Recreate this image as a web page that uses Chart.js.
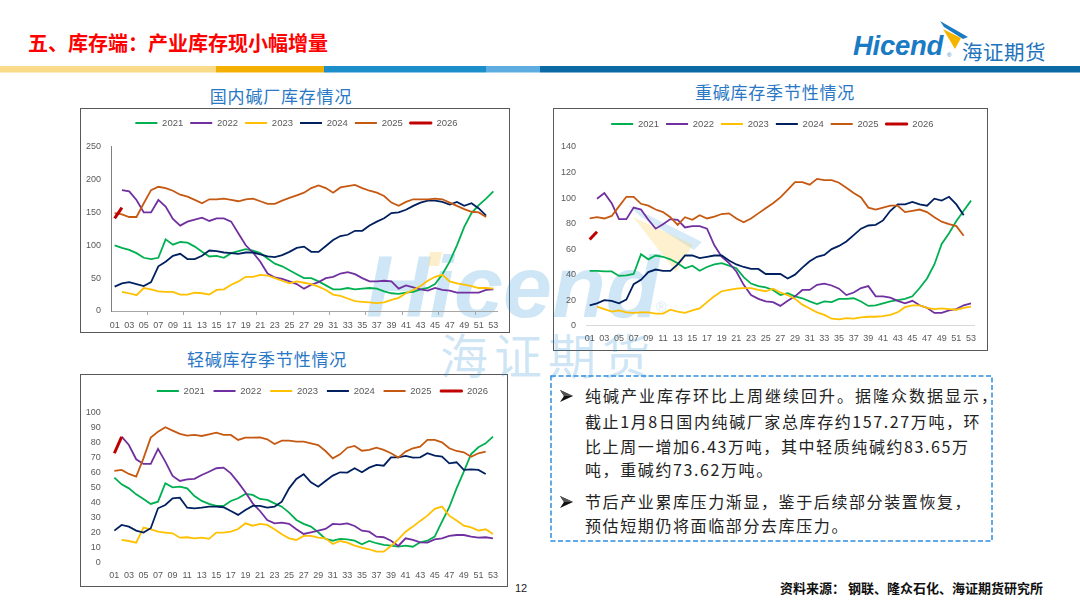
<!DOCTYPE html>
<html><head><meta charset="utf-8">
<script src="https://cdn.jsdelivr.net/npm/chart.js@4.4.1/dist/chart.umd.min.js"></script>
<style>
html,body{margin:0;padding:0;}
body{width:1080px;height:607px;background:#fff;position:relative;overflow:hidden;font-family:"Noto Sans CJK SC",sans-serif;}
.a{position:absolute;white-space:nowrap;}
.frame{position:absolute;box-sizing:border-box;border:1px solid #595959;background:#fff;z-index:1;}
.cw{position:absolute;z-index:3;}
.ttl{position:absolute;z-index:4;color:#2A78C5;font-size:17px;letter-spacing:0.8px;line-height:20px;white-space:nowrap;transform:translateX(-50%);}
.wm{position:absolute;z-index:2;color:rgba(30,140,210,0.22);white-space:nowrap;}
.tl{position:absolute;z-index:4;font-size:16px;letter-spacing:1.6px;line-height:20px;color:#222;white-space:nowrap;}
</style></head>
<body>
<!-- header -->
<div class="a" style="left:28px;top:29px;font-size:20px;font-weight:700;color:#FF0000;line-height:28px;">五、库存端：产业库存现小幅增量</div>
<div class="a" style="left:853px;top:28px;font-family:'Liberation Sans';font-weight:700;font-style:italic;font-size:27.5px;line-height:36px;color:#1A7BC4;letter-spacing:-0.3px;">Hicend</div>
<div class="a" style="left:947px;top:52px;font-family:'Liberation Sans';font-size:6px;color:#1A7BC4;">®</div>
<div class="a" style="left:962px;top:38px;font-size:20.5px;line-height:26px;color:#1F74BC;letter-spacing:0.5px;">海证期货</div>
<svg class="a" style="left:0;top:0;z-index:5;" width="1080" height="80">
  <polygon points="940,21 968,37 963,39 944,27" fill="#1A7BC4"/>
  <polygon points="943,29 961,38 955,49" fill="#F5B400"/>
  <rect x="0" y="66" width="216" height="6.5" fill="#FADB8A"/>
  <rect x="216" y="66" width="108" height="6.5" fill="#F4B000"/>
  <rect x="324" y="66" width="162" height="6.5" fill="#1C8FCB"/>
  <rect x="486" y="66" width="54" height="6.5" fill="#5EADE0"/>
  <rect x="540" y="66" width="540" height="6.5" fill="#0B69A3"/>
</svg>

<!-- chart titles -->
<div class="ttl" style="left:281px;top:86px;">国内碱厂库存情况</div>
<div class="ttl" style="left:775px;top:82px;">重碱库存季节性情况</div>
<div class="ttl" style="left:267px;top:349px;">轻碱库存季节性情况</div>

<!-- frames -->
<div class="frame" style="left:80px;top:108px;width:430px;height:225px;"></div>
<div class="frame" style="left:553px;top:108px;width:435px;height:243px;"></div>
<div class="frame" style="left:80px;top:374px;width:428px;height:213px;"></div>

<!-- watermark -->
<div class="wm" style="left:366px;top:243px;font-family:'Liberation Sans';font-weight:700;font-style:italic;font-size:88px;line-height:88px;">Hicend</div>
<div class="wm" style="left:656px;top:300px;font-family:'Liberation Sans';font-size:14px;line-height:14px;">®</div>
<div class="wm" style="left:440px;top:329px;font-size:48px;line-height:48px;letter-spacing:6px;">海证期货</div>
<svg class="a" style="left:0;top:0;z-index:2;" width="1080" height="607">
  <polygon points="430,252 442,252 439,266 428,266" fill="rgba(250,220,140,0.45)"/>
  <polygon points="628,205 702,242 694,250 640,216" fill="rgba(30,140,210,0.18)"/>
  <polygon points="633,217 693,245 676,272" fill="rgba(250,215,120,0.35)"/>
</svg>

<!-- charts -->
<div class="cw" style="left:81px;top:109px;"><canvas id="c1" width="428" height="223"></canvas></div>
<div class="cw" style="left:554px;top:109px;"><canvas id="c2" width="433" height="241"></canvas></div>
<div class="cw" style="left:81px;top:375px;"><canvas id="c3" width="426" height="211"></canvas></div>

<!-- text box -->
<svg class="a" style="left:549px;top:374px;z-index:4;" width="446" height="170">
  <rect x="2" y="2" width="441" height="165" fill="none" stroke="#2F8FE0" stroke-width="1.5" stroke-dasharray="5,2.5"/>
  <g transform="translate(11,16)">
    <polygon points="0,0 13,6 0,12 4,6" fill="#111"/>
    <polygon points="0,0 13,6 4,6" fill="#555"/>
  </g>
  <g transform="translate(11,122)">
    <polygon points="0,0 13,6 0,12 4,6" fill="#111"/>
    <polygon points="0,0 13,6 4,6" fill="#555"/>
  </g>
</svg>
<div class="tl" style="left:585px;top:385px;letter-spacing:2px;">纯碱产业库存环比上周继续回升。据隆众数据显示，</div>
<div class="tl" style="left:585px;top:411px;">截止1月8日国内纯碱厂家总库存约157.27万吨，环</div>
<div class="tl" style="left:585px;top:436px;">比上周一增加6.43万吨，其中轻质纯碱约83.65万</div>
<div class="tl" style="left:585px;top:459px;">吨，重碱约73.62万吨。</div>
<div class="tl" style="left:585px;top:491px;">节后产业累库压力渐显，鉴于后续部分装置恢复，</div>
<div class="tl" style="left:585px;top:515px;">预估短期仍将面临部分去库压力。</div>

<!-- footer -->
<div class="a" style="left:515px;top:580px;font-family:'Liberation Sans';font-size:11px;line-height:16px;color:#222;">12</div>
<div class="a" style="left:780px;top:579px;font-size:13px;font-weight:700;line-height:18px;color:#111;">资料来源： 钢联、隆众石化、海证期货研究所</div>

<script>
const weeks = ['01','02','03','04','05','06','07','08','09','10','11','12','13','14','15','16','17','18','19','20','21','22','23','24','25','26','27','28','29','30','31','32','33','34','35','36','37','38','39','40','41','42','43','44','45','46','47','48','49','50','51','52','53'];
const years = ['2021','2022','2023','2024','2025','2026'];
const colors = ['#00B050','#7030A0','#FFC000','#002060','#C65911','#C00000'];

// 国内碱厂库存 (万吨)
const total2021 = [100,96,93,88,81,79,81,109,101,105,104,98,90,83,84,81,88,91,94,92,88,80,72,68,62,56,50,50,45,39,33,33,35,33,34,35,34,30,27,26,28,29,33,35,41,56,75,100,128,149,161,171,182];
const total2022 = [null,184,182,169,150,150,169,159,140,130,136,139,142,137,141,141,136,118,100,89,75,57,51,49,45,41,34,40,44,50,52,57,59,56,50,45,45,46,45,34,39,36,33,31,35,32,31,28,28,28,28,32,33];
const total2023 = [null,29,27,24,35,33,30,29,29,25,25,28,27,25,32,33,40,45,52,52,55,54,50,46,42,45,43,41,37,32,25,23,19,15,14,13,12,13,17,20,27,32,38,46,52,55,45,42,40,38,35,35,34];
const total2024 = [37,42,44,41,38,44,68,75,84,87,79,79,84,92,91,89,88,87,89,89,86,83,82,85,90,96,98,90,90,99,108,114,116,122,122,130,136,141,149,150,154,160,165,168,168,166,162,166,160,164,156,145];
const total2025 = [149,147,143,143,164,184,189,187,183,177,174,169,164,170,170,171,169,167,170,171,167,163,163,168,172,176,180,187,191,187,180,188,190,192,187,183,180,175,165,160,166,170,170,170,171,170,165,160,155,151,150,143];
const total2026 = [141,157.27];

// 重碱库存
const heavy2021 = [43,43,42.5,42.5,39,39.5,40.5,56,52,55,54,52,49,45,47,43,46,48,49,47,45,38,33,31,30,28,24,25.5,23,21.5,19,17,19,18.5,21,21,21.5,19,15.5,16,17.5,19,20,21,23,29.5,37,48,64,72.5,82,90,98];
const heavy2022 = [null,99.5,104,96,83.5,83.5,92.5,91,83,76,79.5,83.5,83,77,78,78,76,63,54,49,42.5,32,24,21,19,18.5,15.5,19.5,23,28,28,32,33,31.5,29,24,26,29.5,31,23,23,22,19.5,17.5,19.5,16,14,10,10,12,13,16,17.5];
const heavy2023 = [null,15,13,11,12,10.5,10,10.5,10.5,9.5,9.5,12.5,11,10,12,13.5,18.5,23,27,28,29,29.5,29.5,28,27,29,26,24,21,16.5,13.5,10.5,8.5,5.5,5,6,5.5,6.5,7,7,7.5,8.5,10.5,14.5,16,16,14,13,13.5,13,12.5,14,15];
const heavy2024 = [16,17.5,20,19.5,17.5,20.5,32.5,36,42,44,43,43,48,55,55,53,54,55,55,51,48,46,44.5,44.5,40.5,40.5,40.5,37,40,45.5,50.5,54,55.5,60,62.5,66,71,76,78.5,79,82.5,90,95,95,97,95,94,99.5,98,101,95,86.5];
const heavy2025 = [84,85,84,86,93.5,101,101,95.5,94,91,89,85,79,85,83,86.5,84,85.5,87.5,88,84,81,84,88,92,96,100.5,106.5,112.5,112.5,110.5,115,114,114,112,108,104,100.5,92.5,91,92.5,94,94,89,90,91,89,85,81.5,79.5,78,70.5];
const heavy2026 = [67.5,73.62];

// 轻碱库存
const light2021 = [56.5,52,49.3,45.3,42.2,38.9,40.4,52.7,50,50.4,49.3,44.2,40.9,38.9,37.6,37.6,40.9,42.7,45.6,44.9,42.2,41.6,39.3,37.1,33.1,28.2,25.6,23.8,20,15.6,14.4,15.6,15.3,14.4,12,14.2,12.7,11.6,11.1,10.4,11.1,10.4,13.3,14.4,17.1,27.1,36.7,49.3,60.4,72.2,76.7,79.3,83.8];
const light2022 = [null,83.8,78.2,68.7,65.6,65.6,75.6,67.1,57.6,54.2,55.3,55.6,58.2,60.4,62.7,63.1,59.3,53.3,46.7,39.3,34.2,28.2,26,26.4,25.6,22,18.9,20,21.1,22.2,25.6,25.3,26,24.2,21.1,20.4,17.1,16.7,14.4,10.9,16,14.9,13.3,13.1,15.3,16,17.6,18.2,18.2,17.1,16.4,16.7,16];
const light2023 = [null,14.9,14.2,13.1,23.1,22,20.4,19.8,19.3,16.4,16.7,16,16.4,15.6,19.8,19.8,20.4,22.2,26,24.4,25.6,24.9,22,18.7,16,14.9,17.6,17.6,16.4,16,12.2,14.2,13.1,11.1,9.8,8.7,7.1,7.1,10.9,15.3,20.4,23.8,27.6,31.1,35.6,37.1,31.1,27.8,24.4,23.3,21.1,22,18.9];
const light2024 = [21.1,24.9,23.8,21.1,19.8,22.7,36,38.2,42.7,43.1,36.4,36,36.4,37.1,37.1,36.7,34.2,31.6,34.9,37.6,37.6,36.4,37.1,40.4,49.3,55.6,58.7,53.3,50.4,54.2,57.8,60,59.8,62.7,60,63.1,64.9,64.4,70,70,70.9,69.8,70,72.7,71.1,70.4,66,66.7,61.6,62,61.6,58.9];
const light2025 = [60.9,61.6,58.9,57.1,69.3,83.1,87.1,90,87.8,85.6,84.4,84.9,84.2,85.3,86.4,84.9,84.9,81.6,83.1,83.1,83.3,82,78.9,81.1,81.1,80.4,80.4,79.3,78.2,74.2,69.3,72,76.4,77.6,74.4,74.9,76.4,74.9,72.7,69.8,73.8,76,77.1,81.6,81.6,80,76,74.2,73.3,70.4,72.7,73.8];
const light2026 = [72.7,83.65];

const FONT = "'Liberation Sans', Arial, sans-serif";
const TICK = '#595959';

function makeChart(id, series, o) {
  const datasets = years.map((y, i) => ({
    label: y, data: series[i], borderColor: colors[i], backgroundColor: colors[i],
    borderWidth: i === 5 ? 3 : 1.8, pointRadius: 0, pointHoverRadius: 0, tension: 0,
    fill: false, spanGaps: false, order: 6 - i
  }));
  const legendShift = {
    id: 'legendShift',
    afterLayout(chart) {
      if (chart.legend) { chart.legend.left += o.dx; chart.legend.right += o.dx; }
    }
  };
  return new Chart(document.getElementById(id), {
    type: 'line',
    data: { labels: weeks, datasets },
    plugins: [legendShift],
    options: {
      responsive: false, animation: false, events: [],
      layout: { padding: { left: 0, right: o.padRight, top: o.padTop, bottom: 0 } },
      plugins: {
        legend: {
          display: true, position: 'top', align: 'center', weight: 1000,
          labels: {
            boxWidth: 22, boxHeight: 2, padding: o.legendPad, color: TICK,
            font: { family: FONT, size: 9.5 },
            sort: (a, b) => a.datasetIndex - b.datasetIndex,
            generateLabels: chart => Chart.defaults.plugins.legend.labels.generateLabels(chart).map(l => Object.assign({}, l, {
              fillStyle: colors[l.datasetIndex], strokeStyle: colors[l.datasetIndex],
              lineWidth: l.datasetIndex === 5 ? 1 : 0
            }))
          }
        },
        title: { display: true, text: '', position: 'top', weight: 10, font: { size: 1, lineHeight: 1 }, padding: { top: 0, bottom: o.gap } },
        tooltip: { enabled: false }
      },
      scales: {
        x: {
          type: 'category', offset: true,
          grid: o.xTicks ? {
            display: true, drawOnChartArea: false, drawTicks: true, tickLength: 4, offset: true,
            color: c => (c.index % 5 === 0 && c.index > 0 && c.index < 53) ? '#a6a6a6' : 'rgba(0,0,0,0)'
          } : { display: false, drawTicks: false },
          border: { display: !!o.xBorder, color: o.xBorder || '#d9d9d9', width: 1 },
          ticks: {
            autoSkip: false, maxRotation: 0, minRotation: 0, padding: o.xPad, color: TICK,
            font: { family: FONT, size: 9 },
            callback: (v, i) => (i % 2 === 0 ? weeks[i] : '')
          },
          afterFit: s => { s.height = o.xH; }
        },
        y: {
          min: 0, max: o.max,
          ticks: { stepSize: o.step, padding: 10, color: TICK, font: { family: FONT, size: 9 } },
          grid: { display: false, drawTicks: false },
          border: { display: !!o.yBorder, color: o.yBorder || '#808080', width: 1 },
          afterFit: s => { s.width = o.yW; }
        }
      }
    }
  });
}

makeChart('c1', [total2021, total2022, total2023, total2024, total2025, total2026], {
  yW: 30, padRight: 12, padTop: 2.25, legendPad: 7, gap: 7.95, xH: 21, xPad: 5, dx: 7.5,
  max: 250, step: 50, xTicks: true, xBorder: '#a6a6a6', yBorder: '#808080'
});
makeChart('c2', [heavy2021, heavy2022, heavy2023, heavy2024, heavy2025, heavy2026], {
  yW: 32, padRight: 12.3, padTop: 3.25, legendPad: 7, gap: 7.25, xH: 24.3, xPad: 7.5, dx: 8,
  max: 140, step: 20, xTicks: false, xBorder: '#d9d9d9', yBorder: null
});
makeChart('c3', [light2021, light2022, light2023, light2024, light2025, light2026], {
  yW: 29.7, padRight: 10.4, padTop: 2.45, legendPad: 8.8, gap: 5.55, xH: 23.7, xPad: 7.9, dx: 33.7,
  max: 100, step: 10, xTicks: false, xBorder: null, yBorder: null
});
</script>
</body></html>
